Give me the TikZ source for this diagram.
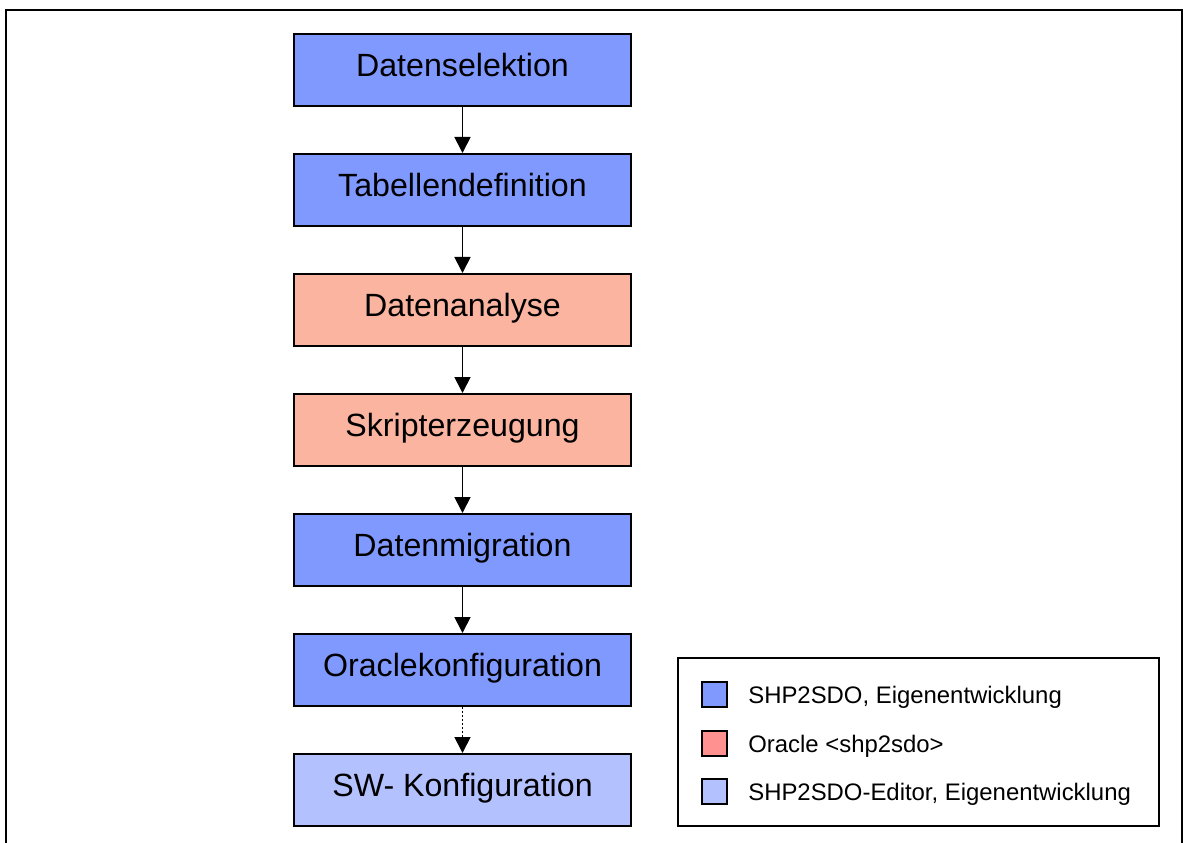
\documentclass[tikz,border=0pt]{standalone}
\usepackage{fontspec}
\setmainfont{Liberation Sans}
\usetikzlibrary{calc,arrows.meta}

\definecolor{eigen}{RGB}{128,153,255}
\definecolor{orabox}{RGB}{250,180,160}
\definecolor{oraleg}{RGB}{255,145,145}
\definecolor{editor}{RGB}{179,194,255}

\tikzset{
  stepbox/.style={draw=black,line width=0.04cm,minimum width=6.74cm,
    minimum height=1.44cm,inner sep=0pt,text height=0.45cm,text depth=0.2cm,
    font=\fontsize{18.3}{21}\selectfont},
  flow/.style={line width=0.035cm,-{Triangle[width=0.32cm,length=0.32cm]}},
  legsq/.style={draw=black,line width=0.04cm,minimum size=0.5cm,inner sep=0pt},
  legtext/.style={anchor=base west,inner sep=0pt,font=\fontsize{13.6}{16}\selectfont}
}

\begin{document}
\begin{tikzpicture}
    \useasboundingbox (0,0) rectangle (23.66,-16.86);
    % outer frame
    \draw[line width=0.04cm] (0.12,-16.86) -- (0.12,-0.2) -- (23.64,-0.2) -- (23.64,-16.86);

    % steps
    \node[stepbox,fill=eigen] (sel) at (9.25,-1.4) {Datenselektion};
    \node[stepbox,fill=eigen] (tab) at (9.25,-3.8) {Tabellendefinition};
    \node[stepbox,fill=orabox] (ana) at (9.25,-6.2) {Datenanalyse};
    \node[stepbox,fill=orabox] (skr) at (9.25,-8.6) {Skripterzeugung};
    \node[stepbox,fill=eigen] (mig) at (9.25,-11.0) {Datenmigration};
    \node[stepbox,fill=eigen] (ocf) at (9.25,-13.4) {Oraclekonfiguration};
    \node[stepbox,fill=editor] (swk) at (9.25,-15.8) {SW- Konfiguration};

    \draw[flow] (sel) -- (tab);
    \draw[flow] (tab) -- (ana);
    \draw[flow] (ana) -- (skr);
    \draw[flow] (skr) -- (mig);
    \draw[flow] (mig) -- (ocf);
    \draw[flow,dash pattern=on 0.04cm off 0.04cm] (ocf) -- (swk);

    % legend
    \node[draw=black,line width=0.04cm,minimum width=9.62cm,minimum height=3.36cm] (leg) at (18.37,-14.84) {};
    \node[legsq,fill=eigen] (sq1) at (14.29,-13.89) {};
    \node[legsq,fill=oraleg] (sq2) at (14.29,-14.87) {};
    \node[legsq,fill=editor] (sq3) at (14.29,-15.83) {};
    \node[legtext] (lt1) at ($(sq1.east)+(0.4,-0.17)$) {SHP2SDO, Eigenentwicklung};
    \node[legtext] (lt2) at ($(sq2.east)+(0.4,-0.17)$) {Oracle <shp2sdo>};
    \node[legtext] (lt3) at ($(sq3.east)+(0.4,-0.17)$) {SHP2SDO-Editor, Eigenentwicklung};
\end{tikzpicture}
\end{document}
